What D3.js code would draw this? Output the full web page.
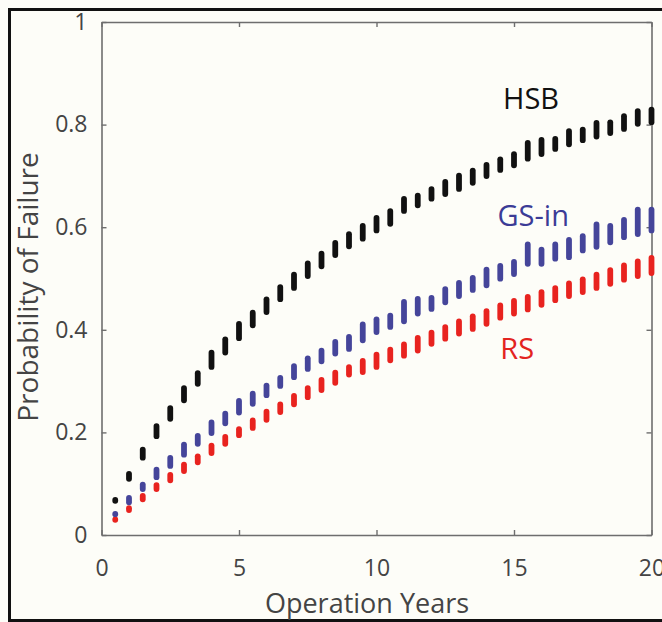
<!DOCTYPE html>
<html>
<head>
<meta charset="UTF-8">
<script src="https://cdnjs.cloudflare.com/ajax/libs/d3/7.8.5/d3.min.js"></script>
<style>
  body { margin: 0; background: #fdfdf8; }
  svg { display: block; }
  text { font-family: "Open Sans", "Noto Sans", sans-serif; fill: #444; }
</style>
</head>
<body>
<div id="chart"></div>
<script>
// operation years
var years = [0.5, 1, 1.5, 2, 2.5, 3, 3.5, 4, 4.5, 5, 5.5, 6, 6.5, 7, 7.5, 8, 8.5, 9, 9.5, 10,
             10.5, 11, 11.5, 12, 12.5, 13, 13.5, 14, 14.5, 15, 15.5, 16, 16.5, 17, 17.5, 18, 18.5, 19, 19.5, 20];

// HSB range (low / high)
var hsbLow  = [0.061, 0.104, 0.145, 0.187, 0.221, 0.257, 0.289, 0.322, 0.350, 0.378, 0.403, 0.429, 0.454, 0.476, 0.499, 0.518, 0.540, 0.557, 0.572, 0.588,
               0.601, 0.626, 0.637, 0.650, 0.659, 0.669, 0.681, 0.694, 0.706, 0.715, 0.728, 0.737, 0.747, 0.756, 0.764, 0.771, 0.778, 0.786, 0.796, 0.799];
var hsbHigh = [0.074, 0.125, 0.172, 0.218, 0.253, 0.292, 0.321, 0.361, 0.387, 0.417, 0.439, 0.465, 0.489, 0.513, 0.535, 0.554, 0.575, 0.592, 0.608, 0.624,
               0.637, 0.661, 0.667, 0.680, 0.694, 0.706, 0.716, 0.727, 0.738, 0.748, 0.770, 0.776, 0.778, 0.793, 0.796, 0.809, 0.810, 0.822, 0.832, 0.835];

// GS-in range
var gsLow  = [0.035, 0.058, 0.084, 0.107, 0.129, 0.151, 0.172, 0.193, 0.212, 0.233, 0.250, 0.267, 0.285, 0.302, 0.318, 0.333, 0.348, 0.357, 0.374, 0.390,
              0.400, 0.411, 0.426, 0.435, 0.448, 0.460, 0.472, 0.481, 0.494, 0.503, 0.523, 0.523, 0.533, 0.536, 0.549, 0.556, 0.565, 0.575, 0.581, 0.588];
var gsHigh = [0.047, 0.078, 0.104, 0.133, 0.156, 0.182, 0.199, 0.225, 0.242, 0.267, 0.281, 0.297, 0.312, 0.335, 0.350, 0.365, 0.382, 0.392, 0.416, 0.426,
              0.433, 0.460, 0.466, 0.468, 0.485, 0.497, 0.507, 0.523, 0.530, 0.538, 0.572, 0.562, 0.572, 0.581, 0.588, 0.611, 0.608, 0.620, 0.640, 0.640];

// RS range
var rsLow  = [0.024, 0.043, 0.064, 0.084, 0.101, 0.119, 0.136, 0.154, 0.172, 0.189, 0.203, 0.219, 0.234, 0.249, 0.263, 0.277, 0.291, 0.307, 0.312, 0.322,
              0.335, 0.344, 0.354, 0.367, 0.377, 0.387, 0.396, 0.406, 0.418, 0.426, 0.434, 0.443, 0.452, 0.460, 0.468, 0.476, 0.484, 0.492, 0.499, 0.505];
var rsHigh = [0.036, 0.058, 0.082, 0.103, 0.123, 0.143, 0.159, 0.180, 0.197, 0.212, 0.229, 0.246, 0.260, 0.277, 0.292, 0.308, 0.322, 0.333, 0.345, 0.357,
              0.367, 0.377, 0.390, 0.400, 0.411, 0.422, 0.432, 0.442, 0.453, 0.462, 0.470, 0.479, 0.487, 0.496, 0.504, 0.513, 0.522, 0.531, 0.539, 0.546];

var xTicks = [0, 5, 10, 15, 20];
var yTicks = [0, 0.2, 0.4, 0.6, 0.8, 1];

var W = 662, H = 622;
var pLeft = 101.5, pRight = 651.5, pTop = 22, pBottom = 535;
var markW = 5.8;

var svg = d3.select('#chart').append('svg')
    .attr('width', W)
    .attr('height', H);

svg.append('rect')
    .attr('width', W).attr('height', H)
    .attr('fill', '#fdfdf8');

// outer frame of the figure
svg.append('rect')
    .attr('x', 9.5).attr('y', 9.5)
    .attr('width', 680).attr('height', 611)
    .attr('fill', 'none')
    .attr('stroke', '#111')
    .attr('stroke-width', 3);

var x = d3.scaleLinear().domain([0, 20]).range([pLeft, pRight]);
var y = d3.scaleLinear().domain([0, 1]).range([pBottom, pTop]);

// axes: ticks point inward, box on all four sides
function styleAxis(g) {
    g.select('.domain').attr('stroke', '#6e6e6e').attr('stroke-width', 1.6);
    g.selectAll('.tick line').attr('stroke', '#6e6e6e').attr('stroke-width', 1.4);
    g.selectAll('.tick text').style('font-size', '23px').attr('fill', '#444');
}

svg.append('g')
    .attr('transform', 'translate(0,' + pBottom + ')')
    .call(d3.axisBottom(x).tickValues(xTicks).tickSize(-5).tickSizeOuter(0).tickPadding(25).tickFormat(d3.format('d')))
    .call(styleAxis);

svg.append('g')
    .attr('transform', 'translate(0,' + pTop + ')')
    .call(d3.axisTop(x).tickValues(xTicks).tickSize(-5).tickSizeOuter(0).tickFormat(''))
    .call(styleAxis);

svg.append('g')
    .attr('transform', 'translate(' + pLeft + ',0)')
    .call(d3.axisLeft(y).tickValues(yTicks).tickSize(-5).tickSizeOuter(0).tickPadding(14).tickFormat(function (d) { return d3.format('')(d); }))
    .call(styleAxis);

svg.append('g')
    .attr('transform', 'translate(' + pRight + ',0)')
    .call(d3.axisRight(y).tickValues(yTicks).tickSize(-5).tickSizeOuter(0).tickFormat(''))
    .call(styleAxis);

// range markers: short thick vertical strokes with round ends
var series = [
    { name: 'RS', low: rsLow, high: rsHigh, color: '#e8231f' },
    { name: 'GS-in', low: gsLow, high: gsHigh, color: '#45459a' },
    { name: 'HSB', low: hsbLow, high: hsbHigh, color: '#111111' }
];

series.forEach(function (s) {
    svg.append('g')
        .selectAll('line')
        .data(years)
        .enter()
        .append('line')
        .attr('x1', function (d) { return x(d); })
        .attr('x2', function (d) { return x(d); })
        .attr('y1', function (d, i) {
            var a = y(s.high[i]) + markW / 2, b = y(s.low[i]) - markW / 2;
            return a < b ? a : (a + b) / 2;
        })
        .attr('y2', function (d, i) {
            var a = y(s.high[i]) + markW / 2, b = y(s.low[i]) - markW / 2;
            return a < b ? b : (a + b) / 2;
        })
        .attr('stroke', s.color)
        .attr('stroke-width', markW)
        .attr('stroke-linecap', 'round');
});

// series labels
var labels = [
    { text: 'HSB', xv: 14.6, yv: 0.83, color: '#111' },
    { text: 'GS-in', xv: 14.4, yv: 0.602, color: '#3b3b96' },
    { text: 'RS', xv: 14.5, yv: 0.343, color: '#e32420' }
];
svg.selectAll('.lab')
    .data(labels)
    .enter()
    .append('text')
    .attr('class', 'lab')
    .attr('x', function (d) { return x(d.xv); })
    .attr('y', function (d) { return y(d.yv); })
    .style('font-size', '29px')
    .style('fill', function (d) { return d.color; })
    .text(function (d) { return d.text; });

// axis titles
svg.append('text')
    .attr('x', 367)
    .attr('y', 613)
    .attr('text-anchor', 'middle')
    .style('font-size', '27px')
    .text('Operation Years');

svg.append('text')
    .attr('transform', 'translate(38,287) rotate(-90)')
    .attr('text-anchor', 'middle')
    .style('font-size', '28px')
    .text('Probability of Failure');
</script>
</body>
</html>
